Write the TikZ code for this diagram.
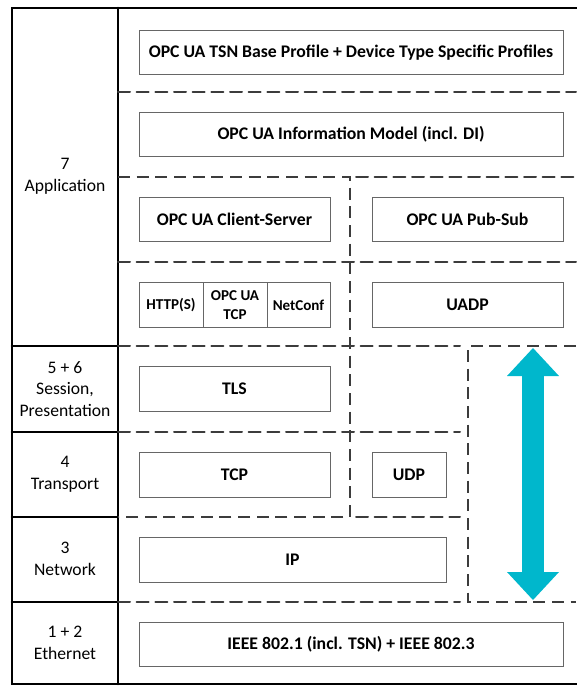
\documentclass[tikz,border=0pt]{standalone}
\usepackage{fontspec}
\setmainfont{Carlito}
\usepackage{tkz-euclide}
\usetikzlibrary{arrows.meta}
\definecolor{arrowcyan}{RGB}{0,183,204}
\definecolor{dashgray}{RGB}{60,60,60}
\tikzset{
	box/.style={draw=black!60, line width=0.75pt, fill=white, minimum height=33.5pt, inner sep=0pt, font=\fontsize{13.3}{15}\selectfont\bfseries},
	smallbox/.style={box, align=center, font=\fontsize{11.3}{14}\selectfont\bfseries},
	layer/.style={align=center, font=\fontsize{13.2}{16.2}\selectfont},
	sep/.style={dashgray, line width=1.5pt, dash pattern=on 9pt off 5pt},
	frameline/.style={black, line width=1.9pt},
}

\begin{document}
\begin{tikzpicture}[x=0.75pt, y=-0.75pt]
	\useasboundingbox (0,0) rectangle (576,686);
	\tkzDefPoints{118/8/V1, 118/684/V2, 12/346/S1, 118/346/S2, 12/432/S3, 118/432/S4, 12/517/S5, 118/517/S6, 12/602/S7, 118/602/S8}
	\tkzDefPoints{118/92/A1, 576/92/A2, 356/177/B1, 576/177/B2, 118/262/D1, 576/262/D2, 118/346/E1, 460/346/E2, 118/432/F1, 460/432/F2, 356/517/G1, 460/517/G2, 118/602/H1, 460/602/H2}
	\tkzDefPoints{118/177/C1, 350/177/C2, 350/517/C3, 118/517/C4, 576/346/R1, 468/346/R2, 468/602/R3, 576/602/R4}
	\tkzDefPoints{533/348/T, 533/600/B}
	
	\draw[frameline] (12,8) rectangle (584,684);
	\tkzDrawSegments[frameline](V1,V2 S1,S2 S3,S4 S5,S6 S7,S8)
	
	\tkzDrawSegments[sep](A1,A2 B1,B2 D1,D2 E1,E2 F1,F2 G1,G2 H1,H2)
	\draw[sep] (C1) -- (C2) -- (C3) -- (C4);
	\draw[sep] (R1) -- (R2) -- (R3) -- (R4);
	
	\draw[arrowcyan, line width=16.5pt, {Triangle[width=39pt, length=21pt, line width=0pt]}-{Triangle[width=39pt, length=21pt, line width=0pt]}] (T) -- (B);
	
	\node[layer] (app) at (65,176) {7\\Application};
	\node[layer] (sesspres) at (65,389) {5 + 6\\Session,\\Presentation};
	\node[layer] (transport) at (65,474) {4\\Transport};
	\node[layer] (network) at (65,559) {3\\Network};
	\node[layer] (ethernet) at (65,643) {1 + 2\\Ethernet};
	
	\node[box, minimum width=318pt] (tsn) at (351,52.5) {OPC UA TSN Base Profile + Device Type Specific Profiles};
	\node[box, minimum width=318pt] (infomodel) at (351,134.5) {OPC UA Information Model (incl. DI)};
	\node[box, minimum width=143.25pt] (clientserver) at (234.5,219.5) {OPC UA Client-Server};
	\node[box, minimum width=143.25pt] (pubsub) at (467.5,219.5) {OPC UA Pub-Sub};
	\node[smallbox, minimum width=48pt] (https) at (171,305) {HTTP(S)};
	\node[smallbox, minimum width=48pt] (uatcp) at (235,305) {OPC UA\\TCP};
	\node[smallbox, minimum width=47.25pt] (netconf) at (298.5,305) {NetConf};
	\node[box, minimum width=143.25pt] (uadp) at (467.5,305) {UADP};
	\node[box, minimum width=143.25pt] (tls) at (234.5,389) {TLS};
	\node[box, minimum width=143.25pt] (tcp) at (234.5,475) {TCP};
	\node[box, minimum width=55.5pt] (udp) at (409,475) {UDP};
	\node[box, minimum width=230.25pt] (ip) at (292.5,560) {IP};
	\node[box, minimum width=318pt] (ieee) at (351,644.5) {IEEE 802.1 (incl. TSN) + IEEE 802.3};
\end{tikzpicture}
\end{document}
